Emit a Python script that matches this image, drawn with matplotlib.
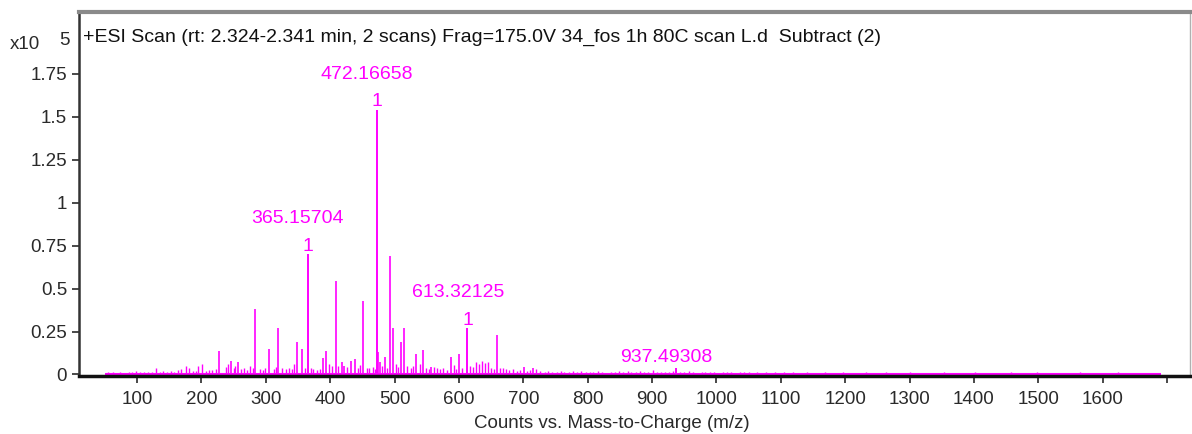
#!/usr/bin/env python3
# ESI mass spectrum (Counts vs. m/z) redrawn as a stick plot

import matplotlib.pyplot as plt

# Labelled peaks: m/z, intensity (x10^5)
label_mz = [365.15704, 472.16658, 613.32125, 937.49308]
label_int = [0.70, 1.54, 0.27, 0.035]
label_charge = ['1', '1', '1', '']

# Other major peaks
major_mz = [228, 246, 257, 284, 305, 319, 348, 356, 389, 394, 408.5, 418,
            422, 432, 438, 451.5, 474, 478, 486, 492.5, 497, 510, 515.5,
            534, 544.5, 557, 588, 600.5, 658.5, 701, 715]
major_int = [0.135, 0.08, 0.07, 0.38, 0.15, 0.27, 0.19, 0.15, 0.097, 0.135,
             0.545, 0.07, 0.05, 0.08, 0.09, 0.43, 0.13, 0.07, 0.10, 0.69,
             0.27, 0.19, 0.27, 0.12, 0.14, 0.045, 0.10, 0.12, 0.23, 0.045,
             0.035]

# Minor peaks / baseline grass
minor_mz = [55, 62, 68, 74, 81, 87, 93, 99, 105, 111, 117, 124, 129, 135,
            141, 147, 153, 158, 163, 169, 176, 181, 187, 191, 195, 201, 207,
            212, 217, 222, 238, 242, 250, 253, 262, 267, 271, 276, 280, 291,
            295, 299, 313, 316, 326, 331, 336, 341, 344, 361, 370, 374, 379,
            384, 399, 403, 413, 426, 443, 447, 457, 461, 466, 469, 481, 489,
            503, 506, 520, 525, 529, 539, 549, 553, 561, 566, 571, 576, 581,
            592, 596, 605, 618, 622, 627, 631, 636, 641, 645, 650, 654, 664,
            668, 673, 678, 684, 690, 695,
            706, 711, 720, 726, 733, 739, 745, 752, 758, 764, 771, 777, 783,
            790, 797, 803, 809, 816, 822, 829, 836, 842, 849, 855, 862, 868,
            875, 881, 888, 894, 901, 907, 914, 920, 927, 932, 944, 950, 957,
            963, 970, 977, 983, 990, 996, 1003, 1010, 1016, 1023, 1030, 1036,
            1043, 1050, 1057, 1063, 1070, 1077, 1084, 1091, 1098, 1105, 1112,
            1119, 1126, 1133, 1140, 1147, 1154, 1161, 1168, 1175, 1182, 1189,
            1196, 1203, 1211, 1218, 1225, 1233, 1240, 1248, 1255, 1263, 1270,
            1278, 1285, 1293, 1300, 1308, 1316, 1323, 1331, 1339, 1347, 1354,
            1362, 1370, 1378, 1386, 1394, 1402, 1410, 1418, 1426, 1434, 1442,
            1450, 1458, 1466, 1474, 1482, 1490, 1498, 1507, 1515, 1523, 1531,
            1540, 1548, 1556, 1565, 1573, 1582, 1590, 1598, 1607, 1616, 1624,
            1633, 1642, 1650, 1659, 1668, 1677, 1688]
minor_int = [0.012, 0.015, 0.010, 0.014, 0.009, 0.016, 0.013, 0.018, 0.015,
             0.017, 0.012, 0.016, 0.038, 0.014, 0.018, 0.013, 0.021, 0.016,
             0.024, 0.030, 0.048, 0.040, 0.022, 0.018, 0.052, 0.060, 0.020,
             0.026, 0.024, 0.030, 0.045, 0.060, 0.040, 0.050, 0.030, 0.035,
             0.028, 0.050, 0.040, 0.030, 0.025, 0.035, 0.030, 0.045, 0.040,
             0.030, 0.035, 0.030, 0.060, 0.040, 0.035, 0.030, 0.025, 0.030,
             0.060, 0.050, 0.050, 0.045, 0.040, 0.055, 0.040, 0.035, 0.045,
             0.030, 0.050, 0.040, 0.060, 0.045, 0.050, 0.035, 0.050, 0.060,
             0.040, 0.030, 0.045, 0.035, 0.030, 0.040, 0.025, 0.055, 0.030,
             0.040, 0.050, 0.045, 0.070, 0.060, 0.080, 0.065, 0.075, 0.040,
             0.030, 0.040, 0.035, 0.030, 0.025, 0.030, 0.020, 0.025,
             0.020, 0.025, 0.030, 0.018, 0.015, 0.020, 0.014, 0.012, 0.022,
             0.016, 0.013, 0.018, 0.012, 0.020, 0.015, 0.012, 0.016, 0.022,
             0.014, 0.011, 0.015, 0.013, 0.018, 0.012, 0.020, 0.016, 0.014,
             0.018, 0.012, 0.015, 0.024, 0.017, 0.013, 0.016, 0.014, 0.020,
             0.015, 0.012, 0.018, 0.014, 0.011, 0.016, 0.013, 0.015, 0.012,
             0.010, 0.014, 0.012, 0.015, 0.011, 0.013, 0.012, 0.014, 0.010,
             0.013, 0.011, 0.012, 0.010, 0.014, 0.011, 0.012, 0.009, 0.013,
             0.011, 0.010, 0.012, 0.009, 0.011, 0.010, 0.012, 0.009, 0.011,
             0.010, 0.012, 0.009, 0.011, 0.010, 0.009, 0.012, 0.010, 0.011,
             0.009, 0.012, 0.010, 0.011, 0.009, 0.010, 0.012, 0.009, 0.011,
             0.010, 0.009, 0.011, 0.010, 0.012, 0.009, 0.010, 0.011, 0.009,
             0.010, 0.012, 0.009, 0.011, 0.010, 0.009, 0.011, 0.010, 0.012,
             0.009, 0.010, 0.011, 0.009, 0.012, 0.010, 0.009, 0.011, 0.010,
             0.009, 0.011, 0.010, 0.012, 0.009, 0.011, 0.010, 0.009, 0.011,
             0.010, 0.012, 0.009, 0.010, 0.008, 0.010, 0.009, 0.011, 0.008]

title = ('+ESI Scan (rt: 2.324-2.341 min, 2 scans) Frag=175.0V '
         '34_fos 1h 80C scan L.d  Subtract (2)')
x_ticks = list(range(100, 1800, 100))
x_tick_labels = [str(t) if t <= 1600 else '' for t in x_ticks]
y_ticks = [0, 0.25, 0.5, 0.75, 1, 1.25, 1.5, 1.75]
y_tick_labels = ['0', '0.25', '0.5', '0.75', '1', '1.25', '1.5', '1.75']

MAGENTA = '#ff00ff'
TEXT = '#2a2a2a'

plt.rcParams['font.family'] = ['Liberation Sans', 'DejaVu Sans']

fig = plt.figure(figsize=(11.92, 4.34), dpi=100)
ax = fig.add_axes([0.0663, 0.1336, 0.9317, 0.8388])

# Spectrum sticks
ax.hlines(0.004, 50, 1690, color=MAGENTA, lw=1.5)
ax.vlines(minor_mz, 0, minor_int, color=MAGENTA, lw=1)
ax.vlines(major_mz, 0, major_int, color=MAGENTA, lw=1.2)
ax.vlines(label_mz, 0, label_int, color=MAGENTA, lw=1.4)

# Peak labels: charge "1" right above the stick, m/z above that
for mz, h, z in zip(label_mz, label_int, label_charge):
    if z:
        ax.annotate(z, (mz, h), xytext=(0, 2.5), textcoords='offset points',
                    ha='center', va='baseline', color=MAGENTA, fontsize=14)
        off = 22.5
    else:
        off = 5
    ax.annotate(f'{mz:.5f}', (mz, h), xytext=(-7, off),
                textcoords='offset points', ha='center', va='baseline',
                color=MAGENTA, fontsize=14)

ax.set_xlim(10, 1735)
ax.set_ylim(-0.009, 2.11)
ax.set_xticks(x_ticks)
ax.set_xticklabels(x_tick_labels)
ax.set_yticks(y_ticks)
ax.set_yticklabels(y_tick_labels)
ax.tick_params(axis='both', labelsize=13.5, labelcolor=TEXT, color=TEXT,
               length=5, width=1.2, direction='out')
ax.tick_params(axis='x', pad=6)

ax.set_xlabel('Counts vs. Mass-to-Charge (m/z)', fontsize=13.5, color=TEXT)
ax.xaxis.set_label_coords(0.48, -0.108)

ax.text(0.004, 0.929, title, transform=ax.transAxes, ha='left', va='center',
        fontsize=14, color='#111111')
fig.text(0.008, 0.897, 'x10', fontsize=13.5, color=TEXT, va='center')
fig.text(0.050, 0.907, '5', fontsize=13.5, color=TEXT, va='center')

ax.spines['left'].set_color('#333333')
ax.spines['left'].set_linewidth(1.8)
ax.spines['bottom'].set_color('#111111')
ax.spines['bottom'].set_linewidth(2.5)
ax.spines['top'].set_color('#8a8a8a')
ax.spines['top'].set_linewidth(3)
ax.spines['right'].set_color('#b0b0b0')
ax.spines['right'].set_linewidth(1)

fig.savefig('out.png', dpi=100)
